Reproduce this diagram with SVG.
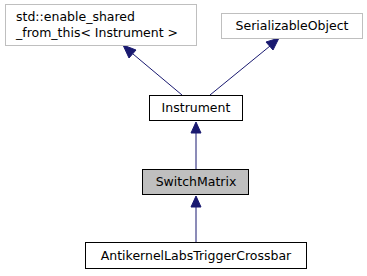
<svg xmlns="http://www.w3.org/2000/svg" width="367" height="276" viewBox="0 0 367 276">
  <style>
    .box { fill: #ffffff; stroke: #000000; stroke-width: 1; }
    .ext { fill: #ffffff; stroke: #bfbfbf; stroke-width: 1; }
    .cur { fill: #bfbfbf; stroke: #000000; stroke-width: 1; }
    .lbl { font-family: "DejaVu Sans", sans-serif; font-size: 12.5px; fill: #000000; }
    .mid { text-anchor: middle; }
    .edge { stroke: #191970; stroke-width: 1; fill: none; }
    .head { fill: #191970; stroke: #191970; stroke-width: 1; }
  </style>
  <rect width="367" height="276" fill="#ffffff"/>

  <g id="edges">
    <!-- Instrument -> enable_shared_from_this -->
    <line class="edge" x1="182" y1="95" x2="133" y2="54"/>
    <polygon class="head" points="123,45 136,50 129,58"/>
    <!-- Instrument -> SerializableObject -->
    <line class="edge" x1="210" y1="95" x2="270" y2="46"/>
    <polygon class="head" points="279,38 273,50 266,42"/>
    <!-- SwitchMatrix -> Instrument -->
    <line class="edge" x1="196" y1="169" x2="196" y2="132"/>
    <polygon class="head" points="196,122 201,133 191,133"/>
    <!-- AntikernelLabsTriggerCrossbar -> SwitchMatrix -->
    <line class="edge" x1="196" y1="242" x2="196" y2="206"/>
    <polygon class="head" points="196,196 201,207 191,207"/>
  </g>

  <g id="node-enable-shared">
    <rect class="ext" x="5.5" y="4.5" width="191" height="41"/>
    <text class="lbl" x="16" y="21">std::enable_shared</text>
    <text class="lbl" x="16" y="37">_from_this&lt; Instrument &gt;</text>
  </g>

  <g id="node-serializable">
    <rect class="ext" x="221.5" y="13.5" width="141" height="25"/>
    <text class="lbl mid" x="292" y="30">SerializableObject</text>
  </g>

  <g id="node-instrument">
    <rect class="box" x="149.5" y="95.5" width="93" height="25"/>
    <text class="lbl mid" x="196" y="112">Instrument</text>
  </g>

  <g id="node-switchmatrix">
    <rect class="cur" x="142.5" y="169.5" width="106" height="25"/>
    <text class="lbl mid" x="196" y="186">SwitchMatrix</text>
  </g>

  <g id="node-crossbar">
    <rect class="box" x="85.5" y="242.5" width="221" height="26"/>
    <text class="lbl mid" x="196" y="260">AntikernelLabsTriggerCrossbar</text>
  </g>
</svg>
